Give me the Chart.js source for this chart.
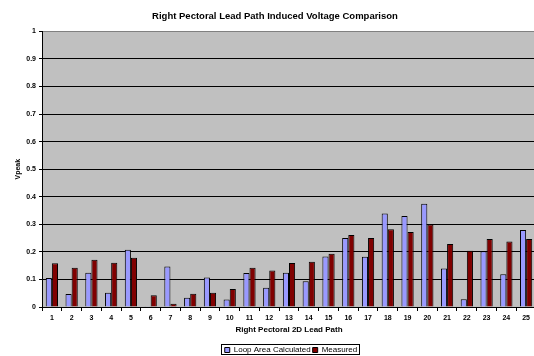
<!DOCTYPE html>
<html>
<head>
<meta charset="utf-8">
<script src="https://cdn.jsdelivr.net/npm/chart.js@4.4.0/dist/chart.umd.min.js"></script>
<style>
  html, body { margin: 0; padding: 0; background: #fff; overflow: hidden; }
  #wrap { width: 538px; height: 356px; }
</style>
</head>
<body>
<div id="wrap"><canvas id="chart" width="538" height="356"></canvas></div>
<script>
// lead path numbers
const paths = ['1', '2', '3', '4', '5', '6', '7', '8', '9', '10', '11', '12', '13',
  '14', '15', '16', '17', '18', '19', '20', '21', '22', '23', '24', '25'];

// Vpeak values
const loopArea = [0.105, 0.047, 0.124, 0.052, 0.208, 0.003, 0.147, 0.034, 0.107, 0.027,
  0.123, 0.070, 0.124, 0.093, 0.183, 0.250, 0.182, 0.339, 0.330, 0.375,
  0.140, 0.028, 0.202, 0.119, 0.279];
const measured = [0.159, 0.142, 0.171, 0.161, 0.179, 0.043, 0.012, 0.048, 0.052, 0.065,
  0.142, 0.132, 0.160, 0.164, 0.193, 0.261, 0.250, 0.282, 0.272, 0.299,
  0.229, 0.204, 0.247, 0.238, 0.247];

const FONT = "'Liberation Sans', Arial, sans-serif";

// grey plot area like the old excel charts
const plotBg = {
  id: 'plotBg',
  beforeDraw(chart) {
    const a = chart.chartArea;
    const ctx = chart.ctx;
    ctx.save();
    ctx.fillStyle = '#c0c0c0';
    ctx.fillRect(a.left, a.top, a.right - a.left, a.bottom - a.top);
    ctx.restore();
  }
};

// the original legend sits right of centre (chart was cropped), nudge it
const legendBox = {
  id: 'legendBox',
  afterLayout(chart) {
    chart.legend.left += 16;
    chart.legend.right += 16;
  },
  afterDraw(chart) {
    const boxes = chart.legend.legendHitBoxes;
    if (!boxes || !boxes.length) return;
    const first = boxes[0];
    const last = boxes[boxes.length - 1];
    const ctx = chart.ctx;
    ctx.save();
    ctx.strokeStyle = '#000';
    ctx.lineWidth = 1;
    const x0 = Math.round(first.left) - 3.5;
    const x1 = Math.round(last.left + last.width) + 2.5;
    const y0 = Math.round(first.top) - 1.5;
    const y1 = Math.round(first.top + first.height) + 0.5;
    ctx.strokeRect(x0, y0, x1 - x0, y1 - y0);
    ctx.restore();
  }
};

new Chart(document.getElementById('chart'), {
  type: 'bar',
  data: {
    labels: paths,
    datasets: [
      {
        label: 'Loop Area Calculated',
        data: loopArea,
        backgroundColor: '#9999ff',
        borderColor: '#000',
        borderWidth: 1
      },
      {
        label: 'Measured',
        data: measured,
        backgroundColor: '#800000',
        borderColor: '#000',
        borderWidth: 1
      }
    ]
  },
  options: {
    responsive: false,
    animation: false,
    layout: { padding: { left: 14, right: 2, top: 0, bottom: -8 } },
    datasets: {
      bar: { categoryPercentage: 0.62, barPercentage: 1.0 }
    },
    plugins: {
      title: {
        display: true,
        text: 'Right Pectoral Lead Path Induced Voltage Comparison',
        color: '#000',
        font: { family: FONT, size: 9.5, weight: 'bold' },
        padding: { top: 11, bottom: 9 }
      },
      legend: {
        position: 'bottom',
        labels: {
          color: '#000',
          font: { family: FONT, size: 8 },
          boxWidth: 5,
          boxHeight: 5,
          padding: 2
        }
      },
      tooltip: { enabled: false }
    },
    scales: {
      x: {
        grid: {
          offset: true,
          drawOnChartArea: false,
          drawTicks: true,
          tickLength: 4,
          tickColor: '#000'
        },
        border: { color: '#000', width: 1 },
        ticks: {
          color: '#000',
          font: { family: FONT, size: 7, weight: 'bold' },
          maxRotation: 0,
          padding: 3
        },
        title: {
          display: true,
          text: 'Right Pectoral 2D Lead Path',
          color: '#000',
          font: { family: FONT, size: 8, weight: 'bold' },
          padding: { top: 0, bottom: 9 }
        }
      },
      y: {
        min: 0,
        max: 1,
        afterFit(scale) { scale.width = 28; },
        ticks: {
          stepSize: 0.1,
          color: '#000',
          font: { family: FONT, size: 7, weight: 'bold' },
          padding: 3,
          callback: v => String(Math.round(v * 10) / 10)
        },
        grid: {
          color: ctx => (ctx.tick && ctx.tick.value === 1 ? '#808080' : '#000'),
          tickColor: '#000',
          tickLength: 3,
          lineWidth: 1
        },
        border: { color: '#000', width: 1 },
        title: {
          display: true,
          text: 'Vpeak',
          color: '#000',
          font: { family: FONT, size: 7, weight: 'bold' },
          padding: 0
        }
      }
    }
  },
  plugins: [plotBg, legendBox]
});
</script>
</body>
</html>
